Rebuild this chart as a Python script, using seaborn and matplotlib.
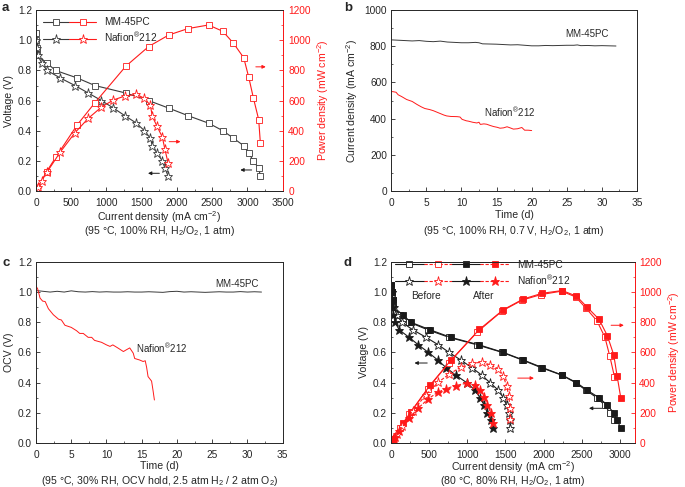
"""
Fuel cell performance of MM-45PC vs Nafion 212: polarization, durability and OCV hold.
"""

import numpy as np
import pandas as pd
import matplotlib
matplotlib.use("Agg")
import matplotlib.pyplot as plt
import seaborn as sns
from matplotlib.lines import Line2D
from matplotlib.legend_handler import HandlerTuple
from matplotlib.ticker import MultipleLocator

# ---- panel a: polarization at 95 C, 100% RH ----
V_MM_A = [1.05, 1.0, 0.95, 0.9, 0.85, 0.8, 0.75, 0.7, 0.65, 0.6, 0.55, 0.5, 0.45, 0.4, 0.35, 0.3, 0.25, 0.2, 0.15, 0.1]
I_MM_A = [0, 5, 10, 20, 150, 278, 585, 835, 1274, 1599, 1882, 2156, 2448, 2651, 2802, 2948, 3019, 3085, 3160, 3184]
P_MM_A = [0, 5, 10, 18, 128, 222, 439, 585, 828, 959, 1035, 1078, 1102, 1060, 981, 884, 755, 617, 474, 318]
V_NF_A = [1.0, 0.95, 0.9, 0.85, 0.8, 0.75, 0.7, 0.65, 0.6, 0.55, 0.5, 0.45, 0.4, 0.35, 0.3, 0.25, 0.2, 0.15, 0.1]
I_NF_A = [5, 15, 25, 80, 156, 344, 552, 741, 929, 1099, 1259, 1425, 1538, 1623, 1651, 1717, 1792, 1830, 1873]
P_NF_A = [5, 14, 23, 68, 125, 258, 386, 482, 557, 604, 630, 641, 615, 568, 495, 429, 358, 275, 187]

# ---- panel b: current at 0.7 V over time ----
T_MM_B = [0, 1, 2, 3, 4, 5, 6, 7, 8, 9, 10, 11, 12, 12.5, 13, 14, 15, 16, 17, 18, 19, 20, 21, 22, 23, 24, 25, 26,
          26.5, 27, 28, 29, 30, 31, 32]
J_MM_B = [836, 834, 832, 830, 832, 828, 826, 829, 824, 822, 820, 820, 822, 820, 814, 813, 812, 810, 808, 809, 806,
          803, 803, 805, 804, 805, 806, 806, 808, 804, 805, 803, 804, 803, 802]
T_NF_B = [0, 0.3, 0.7, 1.0, 1.5, 2.2, 3, 3.7, 4.3, 4.8, 5.5, 6, 6.5, 7, 7.5, 7.9, 8.5, 9.4, 9.8, 10.1, 10.7, 11,
          11.6, 12.2, 12.5, 12.7, 13.2, 13.6, 14.1, 14.6, 15.1, 15.5, 16, 16.5, 17, 17.4, 18, 18.6, 19, 19.5, 20]
J_NF_B = [550, 549, 546, 532, 522, 506, 495, 478, 465, 456, 450, 444, 436, 428, 420, 415, 412, 411, 409, 396, 388,
          386, 380, 376, 380, 368, 371, 369, 362, 356, 352, 347, 349, 355, 348, 342, 344, 351, 336, 336, 334]

# ---- panel c: OCV hold ----
T_MM_C = list(range(33))
V_MM_C = [1.01, 1.005, 1.0, 1.005, 1.0, 1.008, 1.002, 1.0, 1.003, 1.0, 1.002, 1.0, 1.0, 1.002, 1.0, 1.0, 1.002,
          1.0, 0.998, 1.003, 1.005, 1.0, 1.002, 1.0, 0.998, 1.0, 1.002, 1.0, 1.0, 1.003, 1.0, 1.002, 1.0]
T_NF_C = [0, 0.24, 0.57, 0.94, 1.3, 1.75, 2.45, 3.2, 3.6, 4.1, 5.0, 5.75, 6.2, 6.7, 7.4, 7.9, 8.3, 9.3, 10, 10.5,
          10.9, 11.6, 12.4, 12.8, 13.3, 13.8, 14, 14.7, 15.2, 15.5, 15.7, 15.9, 16.4, 16.6, 16.8]
V_NF_C = [1.04, 1.02, 0.96, 0.94, 0.937, 0.89, 0.85, 0.82, 0.815, 0.78, 0.766, 0.744, 0.726, 0.726, 0.70, 0.70,
          0.68, 0.667, 0.65, 0.64, 0.65, 0.63, 0.606, 0.617, 0.63, 0.595, 0.56, 0.55, 0.54, 0.545, 0.5, 0.44,
          0.41, 0.35, 0.285]

# ---- panel d: polarization before / after, 80 C, 80% RH ----
V_MM_D_AFT = [1.05, 1.0, 0.95, 0.9, 0.85, 0.8, 0.75, 0.7, 0.65, 0.6, 0.55, 0.5, 0.45, 0.4, 0.35, 0.3, 0.25, 0.2, 0.15, 0.1]
I_MM_D_AFT = [0, 10, 20, 30, 153, 258, 511, 782, 1157, 1472, 1734, 1983, 2245, 2432, 2572, 2729, 2838, 2921, 2965, 3013]
P_MM_D_AFT = [0, 10, 19, 27, 130, 206, 383, 547, 752, 883, 954, 992, 1010, 973, 900, 819, 710, 584, 445, 301]
V_MM_D_BEF = [1.05, 1.0, 0.95, 0.9, 0.85, 0.8, 0.75, 0.7, 0.65, 0.6, 0.55, 0.5, 0.45, 0.4, 0.35, 0.3, 0.25, 0.2, 0.15]
I_MM_D_BEF = [0, 10, 20, 30, 120, 240, 480, 760, 1130, 1460, 1721, 1965, 2236, 2420, 2555, 2700, 2805, 2870, 2930]
P_MM_D_BEF = [0, 10, 19, 27, 102, 192, 360, 532, 735, 876, 947, 983, 1006, 968, 894, 810, 701, 574, 440]
V_NF_D_BEF = [1.0, 0.95, 0.9, 0.85, 0.8, 0.75, 0.7, 0.65, 0.6, 0.55, 0.5, 0.45, 0.4, 0.35, 0.3, 0.25, 0.2, 0.15, 0.1]
I_NF_D_BEF = [5, 15, 35, 74, 140, 284, 459, 620, 760, 913, 1057, 1188, 1297, 1406, 1472, 1515, 1546, 1559, 1562]
P_NF_D_BEF = [5, 14, 32, 63, 112, 213, 321, 403, 456, 502, 528, 535, 519, 492, 442, 379, 309, 234, 156]
V_NF_D_AFT = [1.0, 0.95, 0.9, 0.85, 0.8, 0.75, 0.7, 0.65, 0.6, 0.55, 0.5, 0.45, 0.4, 0.35, 0.3, 0.25, 0.2, 0.15, 0.1]
I_NF_D_AFT = [5, 12, 20, 30, 52, 105, 236, 358, 489, 611, 720, 847, 991, 1100, 1166, 1222, 1262, 1310, 1340]
P_NF_D_AFT = [5, 11, 18, 26, 42, 79, 165, 233, 293, 336, 360, 381, 396, 385, 350, 306, 252, 197, 134]

BLACK = "#1a1a1a"
GRAY = "#3a3a3a"
RED = "#ff1a1a"
NAFION = "Nafion$^{\\circledR}$212"
DASH = (0, (3, 1.5))
FS = 7
LFS = 7.6
SQ = 4.2
ST = 6.8

sns.set_style("ticks")
plt.rcParams["font.family"] = ["Liberation Sans", "DejaVu Sans"]
plt.rcParams["mathtext.fontset"] = "custom"
plt.rcParams["mathtext.rm"] = "Liberation Sans"
plt.rcParams["mathtext.it"] = "Liberation Sans:italic"
plt.rcParams["font.size"] = FS
plt.rcParams["axes.linewidth"] = 0.7


def curve(ax, x, y, color, marker=None, filled=False, ms=SQ, lw=0.8):
    kw = dict(color=color, lw=lw, estimator=None, sort=False, ax=ax, legend=False)
    if marker:
        kw.update(marker=marker, markersize=ms, markeredgewidth=0.6, markeredgecolor=color,
                  markerfacecolor=color if filled else "white")
    sns.lineplot(x=x, y=y, **kw)


def style_axis(ax, xmaj, xmin, ymaj, ymin):
    ax.xaxis.set_major_locator(MultipleLocator(xmaj))
    ax.xaxis.set_minor_locator(MultipleLocator(xmin))
    ax.yaxis.set_major_locator(MultipleLocator(ymaj))
    ax.yaxis.set_minor_locator(MultipleLocator(ymin))
    ax.tick_params(which="both", direction="in", labelsize=FS + 0.3, pad=3)
    ax.tick_params(axis="x", which="both", pad=4.8)
    ax.tick_params(which="major", length=3, width=0.6)
    ax.tick_params(which="minor", length=1.6, width=0.5)


def right_axis(ax, pad=3):
    ax2 = ax.twinx()
    ax2.set_ylim(0, 1200)
    ax2.yaxis.set_major_locator(MultipleLocator(200))
    ax2.yaxis.set_minor_locator(MultipleLocator(100))
    ax2.tick_params(which="both", direction="in", labelsize=FS + 0.3, colors=RED, pad=pad)
    ax2.tick_params(which="major", length=3, width=0.6)
    ax2.tick_params(which="minor", length=1.6, width=0.5)
    ax2.spines["right"].set_color(RED)
    ax2.set_ylabel("Power density (mW cm$^{-2}$)", color=RED, fontsize=LFS, labelpad=3)
    return ax2


def xlabels(ax, main, cond, y1, y2):
    ax.set_xlabel(main, fontsize=LFS)
    ax.xaxis.set_label_coords(0.5, y1)
    ax.text(0.5, y2, cond, transform=ax.transAxes, ha="center", va="center", fontsize=LFS)


def arrow(ax, x0, x1, y, color):
    ax.annotate("", xy=(x1, y), xytext=(x0, y),
                arrowprops=dict(arrowstyle="-|>", color=color, lw=0.7, mutation_scale=5))


def marker_line(color, marker, ms, filled, ls="-"):
    return Line2D([], [], color=color, lw=0.8, ls=ls, marker=marker, ms=ms, mec=color, mew=0.6,
                  mfc=(color if filled else "white"))


fig = plt.figure(figsize=(6.85, 4.87), dpi=100)
ax_a = fig.add_axes([0.0526, 0.608, 0.360, 0.371])
ax_b = fig.add_axes([0.571, 0.608, 0.359, 0.371])
ax_c = fig.add_axes([0.0526, 0.0903, 0.360, 0.372])
ax_d = fig.add_axes([0.571, 0.0903, 0.356, 0.372])

# ---- a ----
ax_a2 = right_axis(ax_a, pad=4)
curve(ax_a, I_MM_A, V_MM_A, GRAY, "s")
curve(ax_a, I_NF_A, V_NF_A, GRAY, "*", ms=ST)
curve(ax_a2, I_MM_A, P_MM_A, RED, "s")
curve(ax_a2, I_NF_A, P_NF_A, RED, "*", ms=ST)
ax_a.set_xlim(0, 3500)
ax_a.set_ylim(0, 1.2)
style_axis(ax_a, 500, 250, 0.2, 0.1)
xlabels(ax_a, "Current density (mA cm$^{-2}$)", "(95 °C, 100% RH, H$_2$/O$_2$, 1 atm)", -0.1, -0.222)
ax_a.set_ylabel("Voltage (V)", fontsize=LFS, labelpad=3)
arrow(ax_a, 1790, 1550, 0.117, BLACK)
arrow(ax_a, 3100, 2860, 0.139, BLACK)
arrow(ax_a, 1850, 2090, 0.327, RED)
arrow(ax_a, 3080, 3300, 0.824, RED)

h_mm = (marker_line(GRAY, "s", SQ, False), marker_line(RED, "s", SQ, False))
h_nf = (marker_line(GRAY, "*", ST, False), marker_line(RED, "*", ST, False))
ax_a.legend([h_mm, h_nf], ["MM-45PC", NAFION], handler_map={tuple: HandlerTuple(ndivide=None, pad=0)},
            handlelength=5.2, frameon=False, loc="upper left", fontsize=FS + 0.3, borderaxespad=0.3,
            labelspacing=0.3, handletextpad=0.8, bbox_to_anchor=(0.0, 1.0))

# ---- b ----
curve(ax_b, T_MM_B, J_MM_B, GRAY, lw=0.7)
curve(ax_b, T_NF_B, J_NF_B, RED, lw=0.7)
ax_b.set_xlim(0, 35)
ax_b.set_ylim(0, 1000)
style_axis(ax_b, 5, 2.5, 200, 100)
xlabels(ax_b, "Time (d)", "(95 °C, 100% RH, 0.7 V, H$_2$/O$_2$, 1 atm)", -0.108, -0.222)
ax_b.set_ylabel("Current density (mA cm$^{-2}$)", fontsize=LFS, labelpad=3)
ax_b.text(27.9, 842, "MM-45PC", ha="center", va="bottom", fontsize=FS)
ax_b.text(16.8, 400, NAFION, ha="center", va="bottom", fontsize=FS)

# ---- c ----
curve(ax_c, T_MM_C, V_MM_C, GRAY, lw=0.7)
curve(ax_c, T_NF_C, V_NF_C, RED, lw=0.7)
ax_c.set_xlim(0, 35)
ax_c.set_ylim(0, 1.2)
style_axis(ax_c, 5, 2.5, 0.2, 0.1)
xlabels(ax_c, "Time (d)", "(95 °C, 30% RH, OCV hold, 2.5 atm H$_2$ / 2 atm O$_2$)", -0.1, -0.207)
ax_c.set_ylabel("OCV (V)", fontsize=LFS, labelpad=3)
ax_c.text(28.5, 1.02, "MM-45PC", ha="center", va="bottom", fontsize=FS)
ax_c.text(17.9, 0.585, NAFION, ha="center", va="bottom", fontsize=FS)

# ---- d ----
ax_d2 = right_axis(ax_d)
curve(ax_d, I_MM_D_BEF, V_MM_D_BEF, BLACK, "s")
curve(ax_d, I_MM_D_AFT, V_MM_D_AFT, BLACK, "s", filled=True)
curve(ax_d, I_NF_D_BEF, V_NF_D_BEF, BLACK, "*", ms=ST)
curve(ax_d, I_NF_D_AFT, V_NF_D_AFT, BLACK, "*", filled=True, ms=ST)
curve(ax_d2, I_MM_D_BEF, P_MM_D_BEF, RED, "s")
curve(ax_d2, I_MM_D_AFT, P_MM_D_AFT, RED, "s", filled=True)
curve(ax_d2, I_NF_D_BEF, P_NF_D_BEF, RED, "*", ms=ST)
curve(ax_d2, I_NF_D_AFT, P_NF_D_AFT, RED, "*", filled=True, ms=ST)
for line in ax_d2.lines[2:]:
    line.set_linestyle(DASH)
ax_d.set_xlim(0, 3200)
ax_d.set_ylim(0, 1.2)
style_axis(ax_d, 500, 250, 0.2, 0.1)
xlabels(ax_d, "Current density (mA cm$^{-2}$)", "(80 °C, 80% RH, H$_2$/O$_2$, 1 atm)", -0.087, -0.211)
ax_d.set_ylabel("Voltage (V)", fontsize=LFS, labelpad=3)
arrow(ax_d, 510, 270, 0.53, BLACK)
arrow(ax_d, 2800, 2560, 0.23, BLACK)
arrow(ax_d, 1625, 1910, 0.43, RED)
arrow(ax_d, 2850, 3090, 0.78, RED)

quad_sq = (marker_line(BLACK, "s", SQ, False), marker_line(RED, "s", SQ, False, DASH),
           marker_line(BLACK, "s", SQ, True), marker_line(RED, "s", SQ, True, DASH))
quad_st = (marker_line(BLACK, "*", ST, False), marker_line(RED, "*", ST, False, DASH),
           marker_line(BLACK, "*", ST, True), marker_line(RED, "*", ST, True, DASH))
ax_d.legend([quad_sq, quad_st], ["MM-45PC", NAFION],
            handler_map={tuple: HandlerTuple(ndivide=None, pad=0)}, handlelength=11.2, frameon=False,
            loc="upper left", fontsize=FS + 0.3, borderaxespad=0.0, labelspacing=0.3, handletextpad=0.8,
            bbox_to_anchor=(0.0, 1.035))
ax_d.text(458, 0.975, "Before", ha="center", va="center", fontsize=FS + 0.3)
ax_d.text(1210, 0.975, "After", ha="center", va="center", fontsize=FS + 0.3)

# panel letters
for lab, x, y in [("a", 0.003, 0.995), ("b", 0.502, 0.995), ("c", 0.003, 0.473), ("d", 0.502, 0.473)]:
    fig.text(x, y, lab, fontsize=9.5, fontweight="bold", ha="left", va="top")

fig.savefig("out.png", dpi=100)
